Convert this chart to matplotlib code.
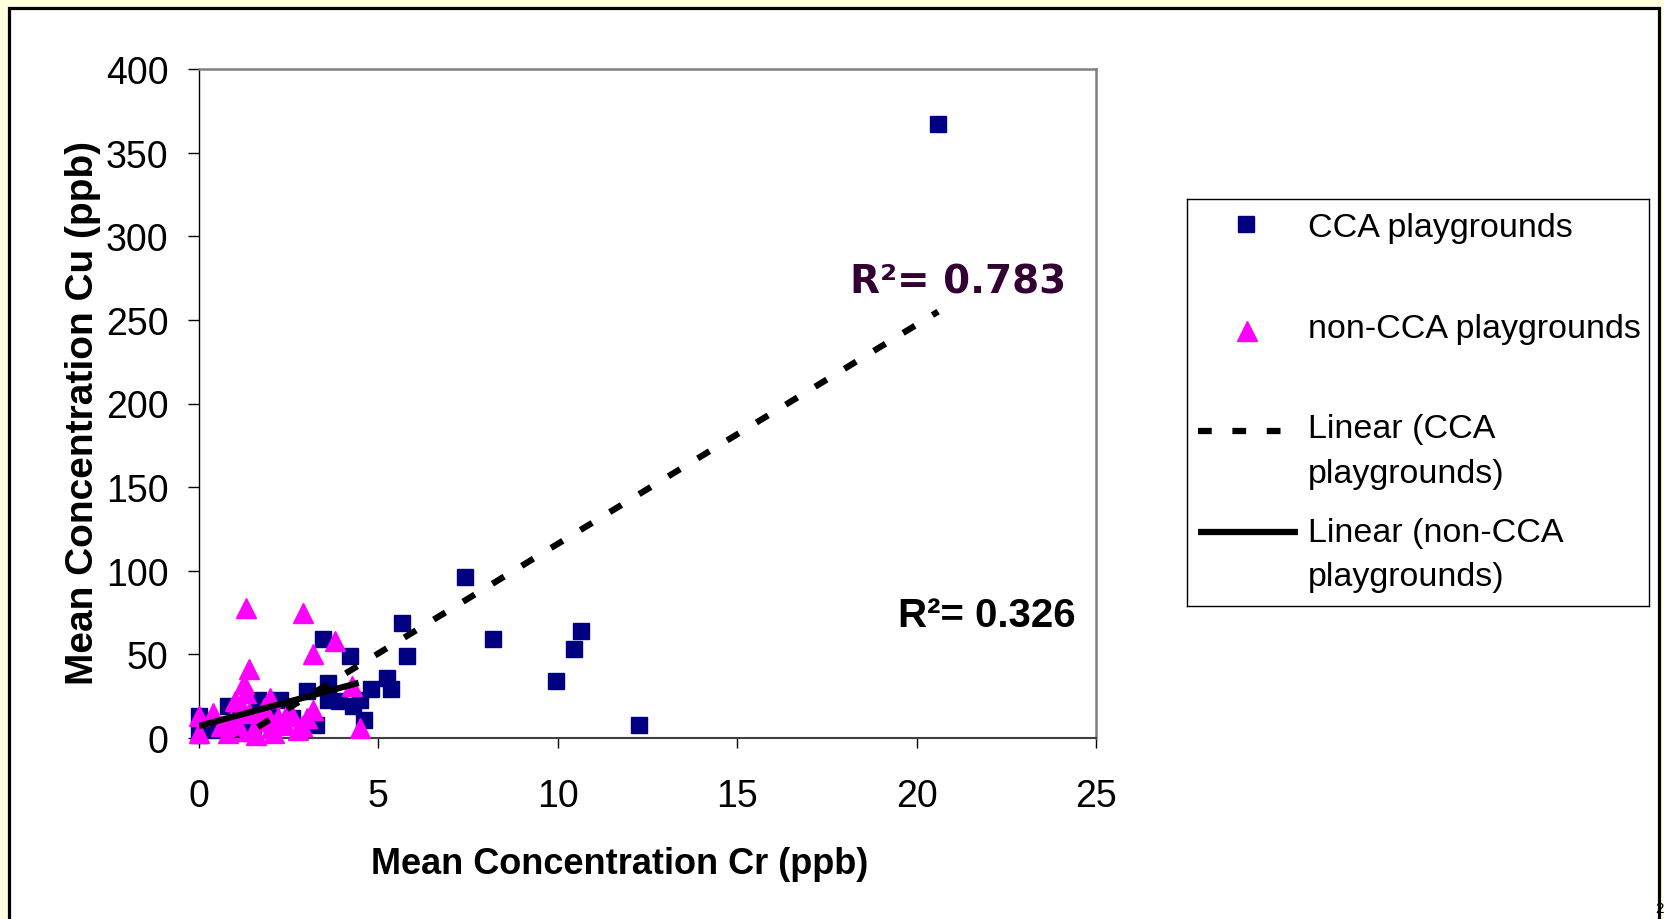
import matplotlib
matplotlib.use("Agg")
import matplotlib.pyplot as plt
from matplotlib.patches import Rectangle
import numpy as np

# data
cca_x = [0.0, 0.0, 0.35, 0.8, 1.1, 1.5, 1.65, 2.0, 2.25, 2.6, 3.0, 3.25, 3.45, 3.6, 3.6, 3.9,
         4.2, 4.3, 4.5, 4.6, 4.8, 5.25, 5.35, 5.65, 5.8, 7.4, 8.2, 9.95, 10.45, 10.65, 12.25, 20.6]
cca_y = [13, 2, 5, 19, 12, 8, 23, 15, 23, 12, 28, 8, 59, 33, 23, 22,
         49, 19, 23, 11, 29, 36, 29, 69, 49, 96, 59, 34, 53, 64, 8, 367]
non_x = [0.0, 0.0, 0.4, 1.0, 1.25, 1.3, 1.3, 1.38, 1.98, 2.89, 3.8, 3.19, 3.19, 4.26, 4.5, 2.87,
         2.6, 0.8, 1.0, 1.1, 1.5, 1.7, 2.0, 2.2, 2.4, 1.4, 1.8, 2.5, 3.0, 0.9, 1.2,
         0.6, 1.6, 2.1, 2.75, 1.9, 2.3, 1.15]
non_y = [13, 3, 15, 22, 32, 27, 78, 41, 24, 75, 58, 50, 17, 31, 6, 7,
         13, 3, 5, 8, 4, 10, 6, 12, 8, 15, 18, 17, 12, 10, 18,
         7, 2, 3, 5, 14, 9, 4]

# trendline coefficients (slope, intercept) as shown
cca_fit = (13.1, -14.9)
non_fit = (5.8, 7.2)
r2_cca = "R\u00b2= 0.783"
r2_non = "R\u00b2= 0.326"

x_ticks = [0, 5, 10, 15, 20, 25]
y_ticks = [0, 50, 100, 150, 200, 250, 300, 350, 400]
legend_labels = ["CCA playgrounds", "non-CCA playgrounds",
                 "Linear (CCA\nplaygrounds)", "Linear (non-CCA\nplaygrounds)"]

W, H = 1665, 920
navy = "#000080"
magenta = "#FF00FF"
arial = ["Liberation Sans", "DejaVu Sans"]

def fx(px):
    return px / W

def fy(py):
    return 1 - py / H

fig = plt.figure(figsize=(W / 100, H / 100), dpi=100, facecolor="#FFFFE0")

# white panel with black frame, behind everything
frame = Rectangle((fx(9.5), -0.05), fx(1659) - fx(9.5), fy(8.7) + 0.05,
                  transform=fig.transFigure, facecolor="white", edgecolor="black",
                  linewidth=2.3, zorder=-10)
fig.patches.append(frame)

ax = fig.add_axes([fx(199), fy(739), fx(1096) - fx(199), fy(70) - fy(739)])
ax.set_facecolor("white")

ax.plot(cca_x, cca_y, "s", color=navy, markersize=12, markeredgecolor=navy,
        clip_on=False, zorder=3)
ax.plot(non_x, non_y, "^", color=magenta, markersize=14.5, markeredgecolor=magenta,
        clip_on=False, zorder=4)

xs = np.array([min(cca_x), max(cca_x)])
ax.plot(xs, cca_fit[0] * xs + cca_fit[1], color="black", linewidth=4.5,
        linestyle=(0, (2.2, 3.3)), zorder=5)
xs2 = np.array([min(non_x), max(non_x) - 0.05])
ax.plot(xs2, non_fit[0] * xs2 + non_fit[1], color="black", linewidth=4.5,
        solid_capstyle="butt", zorder=5)

ax.set_xlim(0, 25)
ax.set_ylim(0, 400)
ax.set_xticks(x_ticks)
ax.set_yticks(y_ticks)
ax.tick_params(axis="y", direction="out", length=8, width=1, pad=14, labelsize=27)
ax.tick_params(axis="x", direction="out", length=7, width=1, pad=22, labelsize=27)
for lab in ax.get_xticklabels() + ax.get_yticklabels():
    lab.set_family(arial)

ax.spines["left"].set_color("black")
ax.spines["left"].set_linewidth(1.0)
ax.spines["bottom"].set_color("#404040")
ax.spines["bottom"].set_linewidth(1.5)
ax.spines["top"].set_color("#808080")
ax.spines["top"].set_linewidth(1.8)
ax.spines["right"].set_color("#808080")
ax.spines["right"].set_linewidth(1.8)

# R^2 annotations
fig.text(fx(850), fy(293), r2_cca, fontsize=28, fontweight="bold",
         family="DejaVu Sans", color="#330033", ha="left", va="baseline")
fig.text(fx(898), fy(627), r2_non, fontsize=29, fontweight="bold",
         family=arial, color="black", ha="left", va="baseline")

# axis titles
fig.text(fx(620), fy(874), "Mean Concentration Cr (ppb)", fontsize=26,
         fontweight="bold", family=arial, ha="center", va="baseline")
fig.text(fx(93), fy(413), "Mean Concentration Cu (ppb)", fontsize=28,
         fontweight="bold", family=arial, ha="center", va="baseline",
         rotation=90, rotation_mode="anchor")

# legend box drawn by hand in pixel coordinates
lx0, ly0, lx1, ly1 = 1187, 200, 1649, 607
lax = fig.add_axes([fx(lx0), fy(ly1), fx(lx1) - fx(lx0), fy(ly0) - fy(ly1)])
lax.set_xlim(0, lx1 - lx0)
lax.set_ylim(ly1 - ly0, 0)
lax.set_xticks([])
lax.set_yticks([])
for s in lax.spines.values():
    s.set_color("black")
    s.set_linewidth(1.0)

lax.plot([59], [25], "s", color=navy, markersize=12)
lax.plot([60], [131.7], "^", color=magenta, markersize=14.5)
lax.plot([11.3, 111], [232.3, 232.3], color="black", linewidth=4.5,
         linestyle=(0, (2.2, 3.3)))
lax.plot([11.3, 111], [333.3, 333.3], color="black", linewidth=4.5,
         solid_capstyle="butt")

baselines = [36.7, 138.3, 238.3, 341.7]
for lab, b in zip(legend_labels, baselines):
    for i, line in enumerate(lab.split("\n")):
        lax.text(121, b + 44.4 * i, line, fontsize=24.5, family=arial,
                 ha="left", va="baseline")

# page number in the bottom-right corner
fig.text(fx(1664), fy(913), "2", fontsize=11, family=arial, ha="right", va="baseline")

fig.savefig("out.png", dpi=100, facecolor=fig.get_facecolor())
